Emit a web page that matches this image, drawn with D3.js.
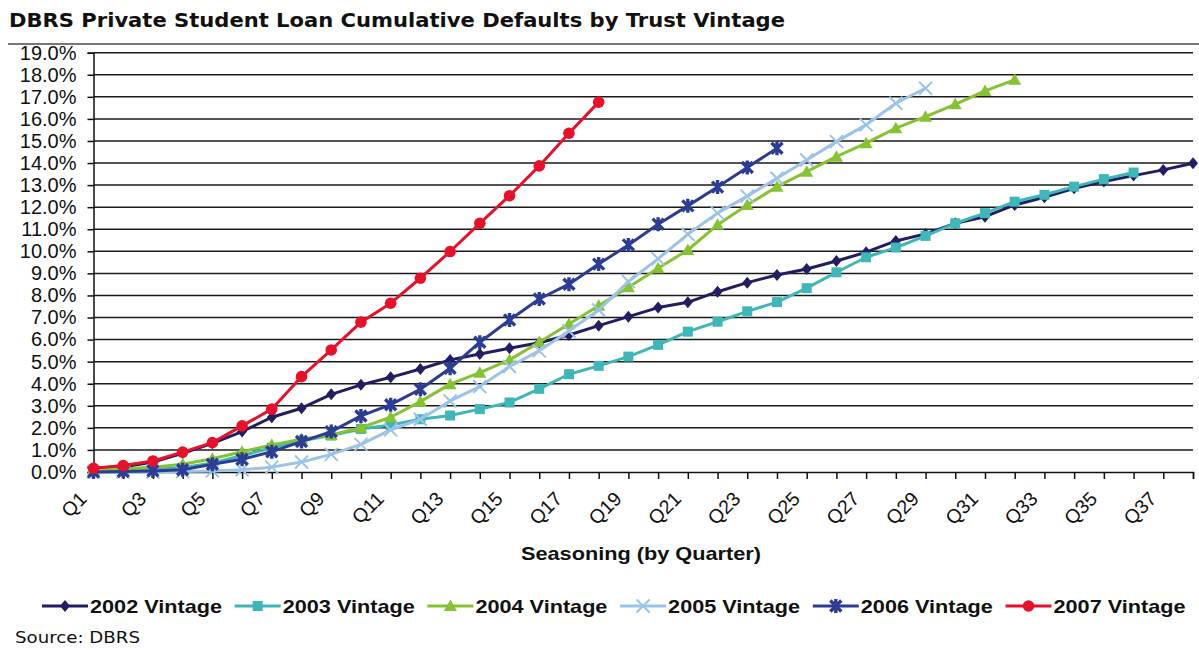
<!DOCTYPE html>
<html>
<head>
<meta charset="utf-8">
<script src="https://cdn.jsdelivr.net/npm/d3@7"></script>
<style>
  html, body { margin: 0; padding: 0; background: #fff; }
  svg { display: block; }
</style>
</head>
<body>
<svg id="chart" width="1199" height="650"></svg>
<script>
// ---- data ----
const quarters = d3.range(1, 39).map(i => "Q" + i);
const yTicks = d3.range(0, 20);
const seriesNames = ["2002 Vintage", "2003 Vintage", "2004 Vintage", "2005 Vintage", "2006 Vintage", "2007 Vintage"];
const v2002 = [0.10,0.22,0.45,0.85,1.30,1.83,2.48,2.89,3.52,3.95,4.29,4.67,5.08,5.35,5.61,5.86,6.21,6.63,7.04,7.45,7.69,8.17,8.58,8.93,9.20,9.56,9.96,10.47,10.79,11.27,11.57,12.10,12.45,12.86,13.16,13.43,13.69,13.99];
const v2003 = [0.05,0.08,0.12,0.20,0.40,0.75,1.10,1.42,1.65,1.95,2.13,2.39,2.56,2.85,3.15,3.77,4.43,4.81,5.23,5.76,6.36,6.81,7.28,7.70,8.33,9.05,9.73,10.17,10.70,11.27,11.73,12.25,12.56,12.93,13.27,13.57];
const v2004 = [0.10,0.15,0.22,0.35,0.60,0.92,1.23,1.49,1.68,2.01,2.48,3.19,3.98,4.50,5.08,5.88,6.71,7.53,8.37,9.23,10.06,11.20,12.10,12.93,13.61,14.29,14.90,15.58,16.10,16.66,17.27,17.77];
const v2005 = [0,0,0,0.02,0.05,0.10,0.22,0.45,0.80,1.25,1.91,2.39,3.22,3.87,4.78,5.49,6.39,7.34,8.63,9.66,10.77,11.73,12.50,13.31,14.14,14.97,15.73,16.71,17.39];
const v2006 = [0.00,0.02,0.05,0.10,0.35,0.58,0.92,1.38,1.83,2.54,3.05,3.75,4.70,5.88,6.89,7.84,8.51,9.42,10.29,11.23,12.06,12.91,13.80,14.67];
const v2007 = [0.17,0.29,0.50,0.90,1.33,2.09,2.85,4.32,5.53,6.79,7.65,8.78,9.99,11.27,12.52,13.87,15.35,16.76];

const colors = ["#231d63", "#3fb6b7", "#86c232", "#9cc3e8", "#2d3c94", "#e8102a"];
const markers = ["diamond", "square", "triangle", "x", "star", "circle"];
const allValues = [v2002, v2003, v2004, v2005, v2006, v2007];

const series = seriesNames.map((name, i) => ({
  name, color: colors[i], marker: markers[i],
  values: allValues[i].map((v, j) => ({ q: quarters[j], v }))
}));

// ---- layout ----
const svg = d3.select("#chart");
const pLeft = 93.5, pRight = 1193, pTop = 52.7, pBottom = 472;

const x = d3.scalePoint().domain(quarters).range([pLeft, pRight]);
const y = d3.scaleLinear().domain([0, 19]).range([pBottom, pTop]);

// Title
svg.append("text")
  .attr("x", 9).attr("y", 27)
  .attr("font-family", "DejaVu Sans, Verdana, sans-serif")
  .attr("font-weight", "bold").attr("font-size", 19)
  .attr("textLength", 776).attr("lengthAdjust", "spacingAndGlyphs")
  .attr("fill", "#111")
  .text("DBRS Private Student Loan Cumulative Defaults by Trust Vintage");

svg.append("line")
  .attr("x1", 8).attr("x2", 1199).attr("y1", 44).attr("y2", 44)
  .attr("stroke", "#777").attr("stroke-width", 2);

// Gridlines
const grid = svg.append("g");
grid.selectAll("line").data(yTicks.filter(d => d > 0)).join("line")
  .attr("x1", pLeft).attr("x2", pRight)
  .attr("y1", d => y(d)).attr("y2", d => y(d))
  .attr("stroke", "#1a1a1a").attr("stroke-width", 1.5);

// Y axis
const yAxis = d3.axisLeft(y).tickValues(yTicks).tickSize(6).tickPadding(11)
  .tickFormat(d => d.toFixed(1) + "%");
const gy = svg.append("g").attr("transform", `translate(${pLeft},0)`).call(yAxis);
gy.select(".domain").attr("stroke", "#111").attr("stroke-width", 1.5);
gy.selectAll(".tick line").attr("stroke", "#111").attr("stroke-width", 1.5);
gy.selectAll("text")
  .attr("font-family", "Liberation Sans, Arial, sans-serif")
  .attr("font-size", 20).attr("fill", "#111");

// X axis
const xAxis = d3.axisBottom(x).tickSize(7).tickFormat(d => (+d.slice(1)) % 2 === 1 ? d : "");
const gx = svg.append("g").attr("transform", `translate(0,${pBottom})`).call(xAxis);
gx.select(".domain").attr("stroke", "#111").attr("stroke-width", 1.5);
gx.selectAll(".tick line").attr("stroke", "#111").attr("stroke-width", 1.5);
gx.selectAll("text")
  .attr("font-family", "Liberation Sans, Arial, sans-serif")
  .attr("font-size", 19.5).attr("fill", "#111")
  .attr("text-anchor", "end")
  .attr("dy", 0).attr("y", 0)
  .attr("transform", "translate(-6,28) rotate(-45)");

// X axis title
svg.append("text")
  .attr("x", 641).attr("y", 560)
  .attr("text-anchor", "middle")
  .attr("font-family", "Liberation Sans, Arial, sans-serif")
  .attr("font-weight", "bold").attr("font-size", 19)
  .attr("textLength", 240).attr("lengthAdjust", "spacingAndGlyphs")
  .attr("fill", "#111")
  .text("Seasoning (by Quarter)");

// markers
function drawMarker(g, type, color) {
  if (type === "diamond") {
    g.append("path").attr("d", "M0,-6L5,0L0,6L-5,0Z").attr("fill", color);
  } else if (type === "square") {
    g.append("rect").attr("x", -5).attr("y", -5).attr("width", 10).attr("height", 10).attr("fill", color);
  } else if (type === "triangle") {
    g.append("path").attr("d", "M0,-6.5L6.5,5L-6.5,5Z").attr("fill", color);
  } else if (type === "x") {
    g.append("path").attr("d", "M-6.5,-6.5L6.5,6.5M-6.5,6.5L6.5,-6.5").attr("stroke", color).attr("stroke-width", 2).attr("fill", "none");
  } else if (type === "star") {
    g.append("path").attr("d", "M-5.5,-5.5L5.5,5.5M-5.5,5.5L5.5,-5.5M0,-7L0,7").attr("stroke", color).attr("stroke-width", 3.4).attr("fill", "none");
  } else if (type === "circle") {
    g.append("circle").attr("r", 5.8).attr("fill", color);
  }
}

const line = d3.line().x(d => x(d.q)).y(d => y(d.v));
const plot = svg.append("g");
series.forEach(s => {
  const g = plot.append("g");
  g.append("path").datum(s.values).attr("d", line)
    .attr("fill", "none").attr("stroke", s.color).attr("stroke-width", 3)
    .attr("stroke-linejoin", "round");
  s.values.forEach(d => {
    const m = g.append("g").attr("transform", `translate(${x(d.q)},${y(d.v)})`);
    drawMarker(m, s.marker, s.color);
  });
});

// Legend
const legend = svg.append("g");
series.forEach((s, i) => {
  const lx = 42 + i * 192.7, ly = 606;
  const g = legend.append("g").attr("transform", `translate(${lx},${ly})`);
  g.append("line").attr("x1", 0).attr("x2", 46).attr("y1", 0).attr("y2", 0)
    .attr("stroke", s.color).attr("stroke-width", 3);
  const m = g.append("g").attr("transform", "translate(23,0)");
  drawMarker(m, s.marker, s.color);
  g.append("text").attr("x", 48).attr("y", 7)
    .attr("font-family", "Liberation Sans, Arial, sans-serif")
    .attr("font-weight", "bold").attr("font-size", 19)
    .attr("textLength", 132).attr("lengthAdjust", "spacingAndGlyphs")
    .attr("fill", "#111")
    .text(s.name);
});

// Source
svg.append("text")
  .attr("x", 15).attr("y", 643)
  .attr("font-family", "DejaVu Sans, Verdana, sans-serif")
  .attr("font-size", 16.5).attr("fill", "#111")
  .attr("textLength", 125).attr("lengthAdjust", "spacingAndGlyphs")
  .text("Source: DBRS");
</script>
</body>
</html>
